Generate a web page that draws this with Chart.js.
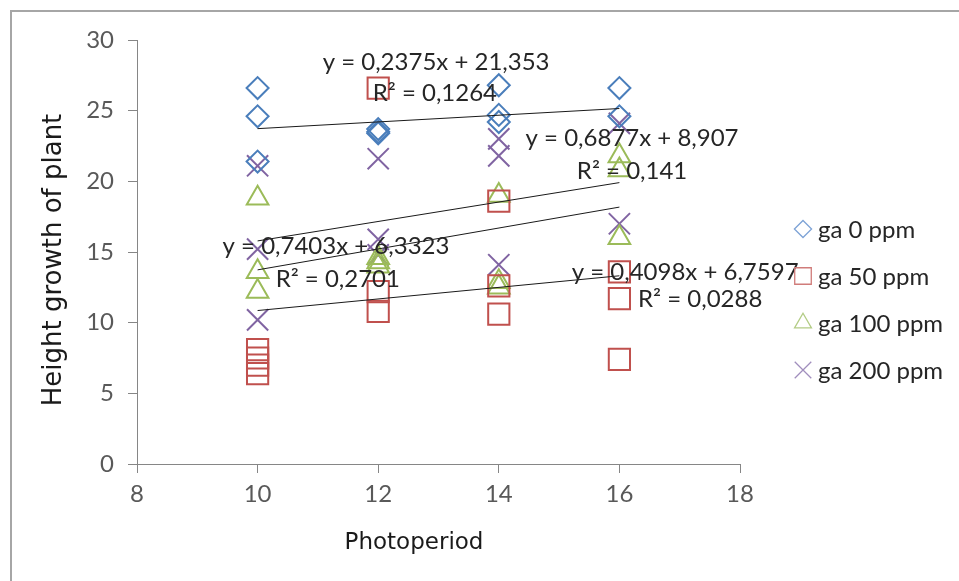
<!DOCTYPE html>
<html lang="en">
<head>
    <meta charset="UTF-8">
    <title>Height growth of plant vs Photoperiod</title>
    <script src="https://cdn.jsdelivr.net/npm/chart.js"></script>
    <style>
        body { margin: 0; background: #fff; }
        canvas { display: block; }
    </style>
</head>
<body>
    <canvas id="growthChart" width="959" height="581"></canvas>
    <script>
        var seriesNames = ['ga 0 ppm', 'ga 50 ppm', 'ga 100 ppm', 'ga 200 ppm'];

        var ga0X = [10, 10, 10, 12, 12, 12, 14, 14, 14, 16, 16];
        var ga0Y = [26.6, 24.6, 21.4, 23.7, 23.5, 23.4, 26.8, 24.7, 24.2, 26.6, 24.6];

        var ga50X = [10, 10, 10, 10, 12, 12, 12, 14, 14, 14, 16, 16, 16];
        var ga50Y = [8.1, 7.5, 7.0, 6.4, 26.6, 12.2, 10.8, 18.6, 12.6, 10.6, 13.6, 11.7, 7.4];

        var ga100X = [10, 10, 10, 12, 12, 12, 14, 14, 14, 16, 16, 16];
        var ga100Y = [18.8, 13.6, 12.2, 14.6, 14.3, 14.0, 19.0, 12.9, 12.5, 21.8, 20.8, 16.0];

        var ga200X = [10, 10, 10, 12, 12, 12, 14, 14, 14, 16, 16];
        var ga200Y = [21.1, 15.2, 10.2, 21.6, 15.9, 14.8, 23.0, 21.8, 14.1, 24.1, 17.0];

        // linear trend lines as printed on the chart
        var trendSlope = [0.2375, 0.4098, 0.6877, 0.7403];
        var trendIntercept = [21.353, 6.7597, 8.907, 6.3323];
        var trendFrom = 10, trendTo = 16;

        var eqLabels = ['y = 0,2375x + 21,353', 'y = 0,4098x + 6,7597', 'y = 0,6877x + 8,907', 'y = 0,7403x + 6,3323'];
        var r2Labels = ['R\u00B2 = 0,1264', 'R\u00B2 = 0,0288', 'R\u00B2 = 0,141', 'R\u00B2 = 0,2701'];
        // label anchors in data units (x, y)
        var eqPosX = [12.96, 17.09, 16.21, 11.30];
        var eqPosY = [28.45, 13.59, 23.07, 15.43];
        var r2PosX = [12.94, 17.34, 16.21, 11.33];
        var r2PosY = [26.26, 11.68, 20.74, 13.09];

        var xTicks = [8, 10, 12, 14, 16, 18];
        var yTicks = [0, 5, 10, 15, 20, 25, 30];
        var xTitle = 'Photoperiod';
        var yTitle = 'Height growth of plant';

        var colors = ['#4a7ebb', '#c0504d', '#9bbb59', '#8064a2'];
        var legendColors = ['#7ea3d6', '#d07c7a', '#b3cc85', '#a08ebd'];
        var styles = ['rectRot', 'rect', 'triangle', 'crossRot'];
        var radii = [11, 15, 12.5, 15];

        function pts(xs, ys) {
            return xs.map(function (x, i) { return { x: x, y: ys[i] }; });
        }

        var seriesX = [ga0X, ga50X, ga100X, ga200X];
        var seriesY = [ga0Y, ga50Y, ga100Y, ga200Y];

        var datasets = [];
        trendSlope.forEach(function (m, i) {
            datasets.push({
                type: 'line',
                label: 'trend ' + seriesNames[i],
                data: [
                    { x: trendFrom, y: m * trendFrom + trendIntercept[i] },
                    { x: trendTo, y: m * trendTo + trendIntercept[i] }
                ],
                borderColor: '#1a1a1a',
                borderWidth: 1,
                pointRadius: 0,
                fill: false,
                order: 0
            });
        });
        seriesNames.forEach(function (name, i) {
            datasets.push({
                label: name,
                data: pts(seriesX[i], seriesY[i]),
                pointStyle: styles[i],
                pointRadius: radii[i],
                borderColor: colors[i],
                backgroundColor: 'rgba(0,0,0,0)',
                borderWidth: 2,
                showLine: false,
                order: 1
            });
        });

        var framePlugin = {
            id: 'frame',
            beforeDraw: function (chart) {
                var c = chart.ctx;
                c.save();
                c.fillStyle = '#fff';
                c.fillRect(0, 0, chart.width, chart.height);
                c.strokeStyle = '#a6a6a6';
                c.lineWidth = 2;
                c.beginPath();
                c.moveTo(11, chart.height);
                c.lineTo(11, 11);
                c.lineTo(chart.width, 11);
                c.stroke();
                c.restore();
            }
        };

        var labelPlugin = {
            id: 'labels',
            afterDatasetsDraw: function (chart) {
                var c = chart.ctx, sx = chart.scales.x, sy = chart.scales.y;
                c.save();
                c.font = '24px Lato';
                c.fillStyle = '#262626';
                c.textAlign = 'center';
                c.textBaseline = 'middle';
                eqLabels.forEach(function (t, i) {
                    c.fillText(t, sx.getPixelForValue(eqPosX[i]), sy.getPixelForValue(eqPosY[i]));
                    c.fillText(r2Labels[i], sx.getPixelForValue(r2PosX[i]), sy.getPixelForValue(r2PosY[i]));
                });
                c.restore();
            },
            afterDraw: function (chart) {
                var c = chart.ctx;
                c.save();
                // axis titles
                c.fillStyle = '#1a1a1a';
                c.textAlign = 'center';
                c.textBaseline = 'middle';
                c.font = '23px "DejaVu Sans"';
                c.fillText(xTitle, 414, 543);
                c.translate(54, 260);
                c.rotate(-Math.PI / 2);
                c.font = '26px "DejaVu Sans"';
                c.fillText(yTitle, 0, 0);
                c.restore();

                // legend, right of the plot
                var lx = 803, ly = 229, gap = 47;
                c.save();
                c.font = '24px Lato';
                c.textBaseline = 'middle';
                seriesNames.forEach(function (name, i) {
                    var y = ly + i * gap;
                    c.strokeStyle = legendColors[i];
                    c.fillStyle = 'rgba(0,0,0,0)';
                    c.lineWidth = 1.3;
                    Chart.helpers.drawPoint(c, { pointStyle: styles[i], radius: radii[i] * 0.78, rotation: 0, borderWidth: 1.3 }, lx, y);
                    c.fillStyle = '#262626';
                    c.fillText(name, lx + 15, y + 1);
                });
                c.restore();
            }
        };

        var ctx = document.getElementById('growthChart').getContext('2d');
        var growthChart = new Chart(ctx, {
            type: 'scatter',
            data: { datasets: datasets },
            plugins: [framePlugin, labelPlugin],
            options: {
                responsive: false,
                animation: false,
                devicePixelRatio: 1,
                layout: { padding: { top: 40, right: 219, left: 0, bottom: 0 } },
                plugins: { legend: { display: false }, tooltip: { enabled: false } },
                scales: {
                    x: {
                        type: 'linear',
                        min: 8, max: 18,
                        afterFit: function (s) { s.height = 117; },
                        afterBuildTicks: function (s) { s.ticks = xTicks.map(function (v) { return { value: v }; }); },
                        grid: { drawOnChartArea: false, drawTicks: true, tickLength: 9, color: '#868686' },
                        border: { color: '#868686', width: 1 },
                        ticks: { color: '#595959', font: { family: 'Lato', size: 24 }, padding: 7 }
                    },
                    y: {
                        min: 0, max: 30,
                        afterFit: function (s) { s.width = 137; },
                        afterBuildTicks: function (s) { s.ticks = yTicks.map(function (v) { return { value: v }; }); },
                        grid: { drawOnChartArea: false, drawTicks: true, tickLength: 9, color: '#868686' },
                        border: { color: '#868686', width: 1 },
                        ticks: { color: '#595959', font: { family: 'Lato', size: 24 }, padding: 14 }
                    }
                }
            }
        });
    </script>
</body>
</html>
